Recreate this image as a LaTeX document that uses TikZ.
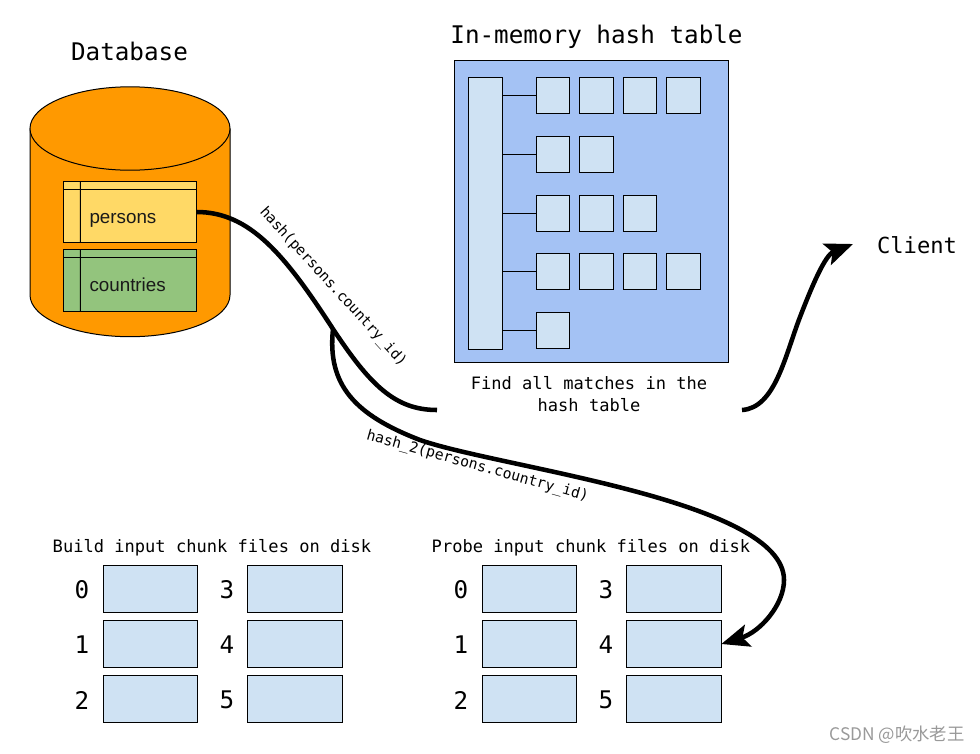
\documentclass[tikz,border=0pt]{standalone}
\usepackage{fontspec}
\setmainfont{Liberation Sans}
\setmonofont{DejaVu Sans Mono}
\newfontfamily\cjkfont{Noto Sans CJK SC}
\usepackage{tikz}
\usetikzlibrary{calc, positioning, arrows.meta}

\definecolor{dborange}{HTML}{FF9900}
\definecolor{tableyellow}{HTML}{FFD966}
\definecolor{tablegreen}{HTML}{93C47D}
\definecolor{cellblue}{HTML}{CFE2F3}
\definecolor{hashblue}{HTML}{A4C2F4}

\tikzset{
    tablebox/.style={rectangle, draw, minimum width=100pt, minimum height=46pt, inner sep=0pt, outer sep=0pt},
    tablelabel/.style={anchor=base west, inner sep=0pt, font=\fontsize{14.1pt}{17pt}\selectfont, text=black!90},
    cellbox/.style={rectangle, draw, fill=cellblue, minimum width=25.4pt, minimum height=27pt, inner sep=0pt, outer sep=0pt},
    chunkbox/.style={rectangle, draw, fill=cellblue, minimum width=71pt, minimum height=35.5pt, inner sep=0pt, outer sep=0pt},
    bigtext/.style={font=\fontsize{18.2pt}{22pt}\ttfamily, inner sep=0pt},
    smalltext/.style={font=\fontsize{12.8pt}{16.5pt}\ttfamily, inner sep=0pt, align=center},
    hashtext/.style={font=\fontsize{10.9pt}{14pt}\ttfamily, inner sep=0pt},
    flowline/.style={line width=3.4pt},
    flowhead/.style={-{Stealth[length=21pt, width=17pt, inset=4.5pt]}}
}

\begin{document}
\begin{tikzpicture}[x=0.75pt, y=-0.75pt, line width=0.75pt, node distance=7.2pt]
    \useasboundingbox (0,0) rectangle (980,753);

    % Cylinder
    \draw[fill=dborange] (30,128.5) -- (30,295) arc[start angle=180, end angle=360, x radius=100, y radius=-41.7] -- (230,128.5);
    \draw[fill=dborange] (130,128.5) ellipse[x radius=100, y radius=41.7];

    % Tables
    \node (persons) [tablebox, fill=tableyellow] at (130,212) {};
    \node (countries) [tablebox, fill=tablegreen] at (130,280.5) {};
    \draw (persons.north west) ++(17,0) -- (persons.south west -| 80.3,0);
    \draw (persons.north west) ++(0,8) -- ++(133.5,0);
    \draw (countries.north west) ++(17,0) -- (countries.south west -| 80.3,0);
    \draw (countries.north west) ++(0,8) -- ++(133.5,0);
    \node (personslabel) [tablelabel] at (89,223.5) {persons};
    \node (countrieslabel) [tablelabel] at (89,291) {countries};

    % Titles
    \node (database) [bigtext] at (129.5,51.5) {Database};
    \node (hashtitle) [bigtext] at (596.5,37) {In-memory hash table};
    \node (client) [bigtext, font=\fontsize{16.6pt}{20pt}\ttfamily] at (917,245) {Client};

    % Hash table
    \node (hashbox) [rectangle, draw, fill=hashblue, minimum width=205pt, minimum height=226.5pt, inner sep=0pt, outer sep=0pt] at (591.5,211) {};
    \node (hashbar) [cellbox, minimum height=203.5pt] at (485.5,213.5) {};

    \node (cella) [cellbox] at (553,95.5) {};
    \node (cellb) [cellbox, right=of cella] {};
    \node (cellc) [cellbox, right=of cellb] {};
    \node (celld) [cellbox, right=of cellc] {};

    \node (celle) [cellbox] at (553,154.5) {};
    \node (cellf) [cellbox, right=of celle] {};

    \node (cellg) [cellbox] at (553,213) {};
    \node (cellh) [cellbox, right=of cellg] {};
    \node (celli) [cellbox, right=of cellh] {};

    \node (cellj) [cellbox] at (553,271.5) {};
    \node (cellk) [cellbox, right=of cellj] {};
    \node (celll) [cellbox, right=of cellk] {};
    \node (cellm) [cellbox, right=of celll] {};

    \node (celln) [cellbox] at (553,330.5) {};

    \draw (cella.west) -- (cella.west -| hashbar.east);
    \draw (celle.west) -- (celle.west -| hashbar.east);
    \draw (cellg.west) -- (cellg.west -| hashbar.east);
    \draw (cellj.west) -- (cellj.west -| hashbar.east);
    \draw (celln.west) -- (celln.west -| hashbar.east);

    \node (findtext) [smalltext] at (589,394.5) {Find all matches in the\\hash table};

    % Build chunk files
    \node (buildtitle) [smalltext] at (212,548) {Build input chunk files on disk};
    \node (builda) [chunkbox] at (150.5,589) {};
    \node (buildb) [chunkbox, below=5.75pt of builda] {};
    \node (buildc) [chunkbox, below=5.75pt of buildb] {};
    \node (buildd) [chunkbox] at (295,589) {};
    \node (builde) [chunkbox, below=5.75pt of buildd] {};
    \node (buildf) [chunkbox, below=5.75pt of builde] {};

    \node (builddigita) [bigtext] at (82,590) {0};
    \node (builddigitb) [bigtext] at (82,645) {1};
    \node (builddigitc) [bigtext] at (82,700) {2};
    \node (builddigitd) [bigtext] at (227,590) {3};
    \node (builddigite) [bigtext] at (227,645) {4};
    \node (builddigitf) [bigtext] at (227,700) {5};

    % Probe chunk files
    \node (probetitle) [smalltext] at (591,548) {Probe input chunk files on disk};
    \node (probea) [chunkbox] at (529.5,589) {};
    \node (probeb) [chunkbox, below=5.75pt of probea] {};
    \node (probec) [chunkbox, below=5.75pt of probeb] {};
    \node (probed) [chunkbox] at (674,589) {};
    \node (probee) [chunkbox, below=5.75pt of probed] {};
    \node (probef) [chunkbox, below=5.75pt of probee] {};

    \node (probedigita) [bigtext] at (461,590) {0};
    \node (probedigitb) [bigtext] at (461,645) {1};
    \node (probedigitc) [bigtext] at (461,700) {2};
    \node (probedigitd) [bigtext] at (606,590) {3};
    \node (probedigite) [bigtext] at (606,645) {4};
    \node (probedigitf) [bigtext] at (606,700) {5};

    % Curves
    \coordinate (hashend) at (437,410);
    \coordinate (forkpoint) at (333,329);
    \coordinate (findout) at (742,410);
    \coordinate (clientin) at (853,244);
    \draw[flowline] (persons.east) .. controls (250,212) and (285,255) .. (forkpoint) .. controls (370,385) and (395,410) .. (hashend);
    \draw[flowline, flowhead] (forkpoint) .. controls (327,385) and (355,415) .. (420,440) .. controls (500,468) and (784,500) .. (784,580) .. controls (784,605) and (760,632) .. (probee.east);
    \draw[flowline, flowhead] (findout) .. controls (775,408) and (785,356) .. (800,317) .. controls (812,286) and (825,255) .. (clientin);

    % Labels on curves
    \node (hashlabel) [hashtext, rotate=-47.5] at (333,287) {hash(persons.country\_id)};
    \node (hashtwolabel) [hashtext, font=\fontsize{11pt}{14pt}\ttfamily, rotate=-15.6] at (477.5,466.5) {hash\_2(persons.country\_id)};

    \node (watermark) [anchor=east, inner sep=0pt, text=black!40, font=\fontsize{13pt}{15pt}\cjkfont] at (965,735) {CSDN @吹水老王};
\end{tikzpicture}
\end{document}
